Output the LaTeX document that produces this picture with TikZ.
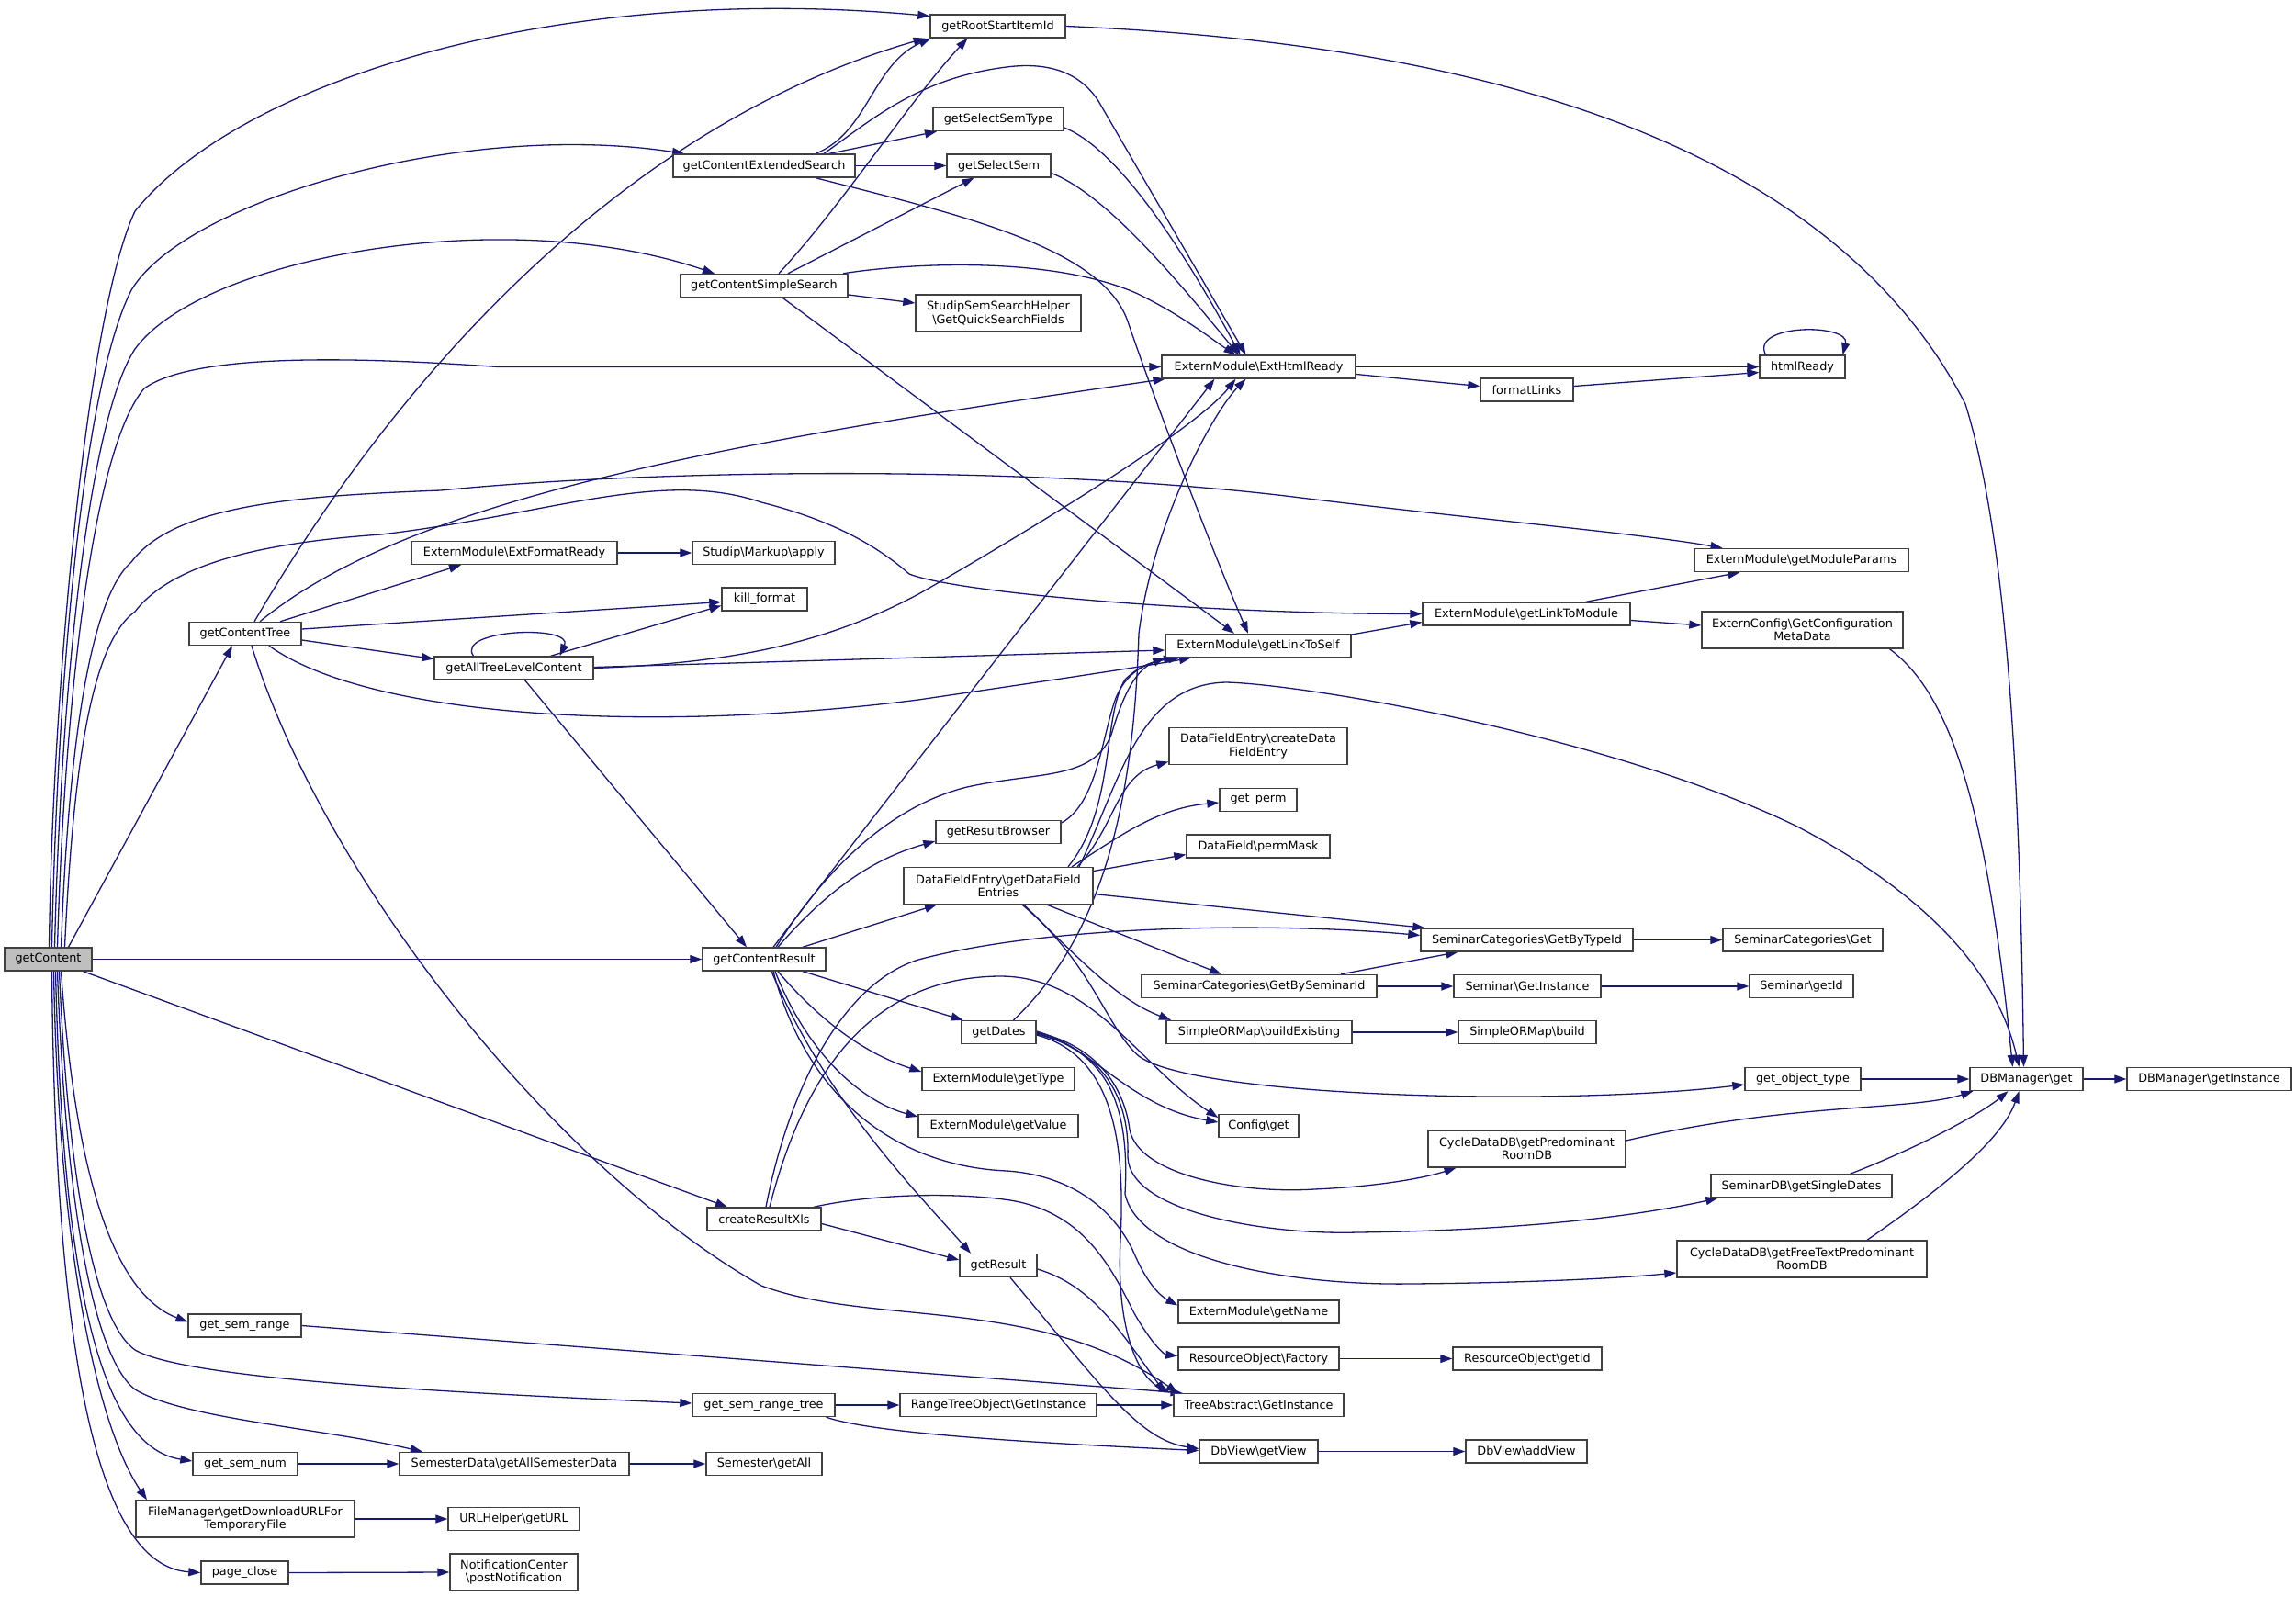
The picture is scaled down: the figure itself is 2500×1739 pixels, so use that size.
\documentclass[tikz,border=0pt]{standalone}
\usepackage{fontspec}
\setmainfont{DejaVu Sans}
\usetikzlibrary{arrows.meta}
\definecolor{edgeblue}{HTML}{191970}
\definecolor{boxgray}{HTML}{404040}
\definecolor{rootfill}{HTML}{BFBFBF}
\newcommand{\bsl}{\textbackslash{}}
\pgfdeclarelayer{edgelayer}
\pgfsetlayers{edgelayer,main}
\tikzset{
  fn/.style={draw=boxgray, line width=1.4pt, fill=white, minimum height=25pt, inner sep=0pt,
             font=\fontsize{12.8}{14.3}\selectfont, align=center, text=black},
  fnn/.style={fn, minimum height=40pt},
  arr/.style={draw=edgeblue, line width=1.3pt, -{Triangle[length=13pt,width=9pt]}},
}
\begin{document}
\begin{tikzpicture}[x=1pt,y=-1pt]
\useasboundingbox (0,0) rectangle (2500,1739);
% ---------------- nodes ----------------
\node[fn, fill=rootfill, minimum width=95pt] (gC) at (52.5,1044.5) {getContent};
\node[fn, minimum width=147pt] (gRS) at (1086.5,28.5) {getRootStartItemId};
\node[fn, minimum width=198pt] (gCES) at (832,180.5) {getContentExtendedSearch};
\node[fn, minimum width=142pt] (gSST) at (1087,130) {getSelectSemType};
\node[fn, minimum width=113pt] (gSS) at (1087.5,180.5) {getSelectSem};
\node[fn, minimum width=182pt] (gCSS) at (832,311) {getContentSimpleSearch};
\node[fnn, minimum width=180pt] (SSH) at (1087,341) {StudipSemSearchHelper\\\bsl GetQuickSearchFields};
\node[fn, minimum width=211pt] (EHR) at (1370.5,399.5) {ExternModule\bsl ExtHtmlReady};
\node[fn, minimum width=93pt] (hR) at (1962.5,399.5) {htmlReady};
\node[fn, minimum width=101pt] (fL) at (1662.5,424.5) {formatLinks};
\node[fn, minimum width=224pt] (EFR) at (560,602) {ExternModule\bsl ExtFormatReady};
\node[fn, minimum width=155pt] (SMA) at (831.5,602) {Studip\bsl Markup\bsl apply};
\node[fn, minimum width=93pt] (kf) at (832.5,652.5) {kill\_format};
\node[fn, minimum width=122pt] (gCT) at (267,690) {getContentTree};
\node[fn, minimum width=173pt] (gATL) at (559.5,727.5) {getAllTreeLevelContent};
\node[fn, minimum width=233pt] (gMP) at (1961.5,610) {ExternModule\bsl getModuleParams};
\node[fn, minimum width=226pt] (gLTM) at (1662,668.5) {ExternModule\bsl getLinkToModule};
\node[fnn, minimum width=219pt] (ECG) at (1962.5,686) {ExternConfig\bsl GetConfiguration\\MetaData};
\node[fn, minimum width=202pt] (gLTS) at (1370,703) {ExternModule\bsl getLinkToSelf};
\node[fnn, minimum width=194pt] (cDFE) at (1370,812.5) {DataFieldEntry\bsl createData\\FieldEntry};
\node[fn, minimum width=84pt] (gp) at (1370,871) {get\_perm};
\node[fn, minimum width=136pt] (gRB) at (1087,906) {getResultBrowser};
\node[fn, minimum width=156pt] (pM) at (1370,921.5) {DataField\bsl permMask};
\node[fnn, minimum width=206pt] (gDFE) at (1087,964.5) {DataFieldEntry\bsl getDataField\\Entries};
\node[fn, minimum width=231pt] (GBT) at (1662.5,1023.5) {SeminarCategories\bsl GetByTypeId};
\node[fn, minimum width=174pt] (SCG) at (1963,1023.5) {SeminarCategories\bsl Get};
\node[fn, minimum width=134pt] (gCR) at (832,1044.5) {getContentResult};
\node[fn, minimum width=256pt] (GBS) at (1371,1074) {SeminarCategories\bsl GetBySeminarId};
\node[fn, minimum width=160pt] (SGI) at (1663,1074) {Seminar\bsl GetInstance};
\node[fn, minimum width=113pt] (SgI) at (1961.5,1074) {Seminar\bsl getId};
\node[fn, minimum width=81pt] (gD) at (1087.5,1124) {getDates};
\node[fn, minimum width=202pt] (bE) at (1371,1124) {SimpleORMap\bsl buildExisting};
\node[fn, minimum width=150pt] (bd) at (1663,1124) {SimpleORMap\bsl build};
\node[fn, minimum width=166pt] (gT) at (1087,1175) {ExternModule\bsl getType};
\node[fn, minimum width=126pt] (got) at (1963,1175) {get\_object\_type};
\node[fn, minimum width=123pt] (DBg) at (2206.5,1175) {DBManager\bsl get};
\node[fn, minimum width=179pt] (DBi) at (2405.5,1175) {DBManager\bsl getInstance};
\node[fn, minimum width=174pt] (gV) at (1087,1226) {ExternModule\bsl getValue};
\node[fn, minimum width=87pt] (Cg) at (1370.5,1226) {Config\bsl get};
\node[fnn, minimum width=215pt] (CPR) at (1662.5,1251) {CycleDataDB\bsl getPredominant\\RoomDB};
\node[fn, minimum width=197pt] (SDB) at (1961.5,1291.5) {SeminarDB\bsl getSingleDates};
\node[fn, minimum width=124pt] (cRX) at (832,1327.5) {createResultXls};
\node[fn, minimum width=84pt] (gR) at (1087,1378) {getResult};
\node[fnn, minimum width=272pt] (CFT) at (1962,1371) {CycleDataDB\bsl getFreeTextPredominant\\RoomDB};
\node[fn, minimum width=175pt] (gN) at (1370.5,1428.5) {ExternModule\bsl getName};
\node[fn, minimum width=123pt] (gsr) at (266.5,1443.5) {get\_sem\_range};
\node[fn, minimum width=175pt] (ROF) at (1370.5,1479.5) {ResourceObject\bsl Factory};
\node[fn, minimum width=162pt] (ROI) at (1663,1479.5) {ResourceObject\bsl getId};
\node[fn, minimum width=155pt] (gsrt) at (831.5,1530) {get\_sem\_range\_tree};
\node[fn, minimum width=214pt] (RTO) at (1087,1530) {RangeTreeObject\bsl GetInstance};
\node[fn, minimum width=185pt] (TAG) at (1370.5,1530) {TreeAbstract\bsl GetInstance};
\node[fn, minimum width=129pt] (DVg) at (1370.5,1580.5) {DbView\bsl getView};
\node[fn, minimum width=132pt] (DVa) at (1662,1580.5) {DbView\bsl addView};
\node[fn, minimum width=114pt] (gsn) at (267,1594) {get\_sem\_num};
\node[fn, minimum width=250pt] (SDG) at (560,1594) {SemesterData\bsl getAllSemesterData};
\node[fn, minimum width=126pt] (Sga) at (832,1594) {Semester\bsl getAll};
\node[fnn, minimum width=238pt] (FM) at (267,1654) {FileManager\bsl getDownloadURLFor\\TemporaryFile};
\node[fn, minimum width=143pt] (URL) at (559.5,1654) {URLHelper\bsl getURL};
\node[fn, minimum width=95pt] (pc) at (266.5,1712.5) {page\_close};
\node[fnn, minimum width=139pt] (NC) at (559.5,1712) {NotificationCenter\\\bsl postNotification};
% ---------------- edges ----------------
\begin{pgfonlayer}{edgelayer}
% getContent upward
\draw[arr] ([xshift=1pt]gC.north) .. controls (57,750) and (95,340) .. (147,230) .. controls (260,90) and (600,-20) .. ([yshift=11pt]gRS.west);
\draw[arr] ([xshift=4pt]gC.north) .. controls (62,750) and (90,420) .. (143,316) .. controls (200,220) and (500,130) .. ([xshift=-87pt]gCES.north);
\draw[arr] ([xshift=7pt]gC.north) .. controls (66,760) and (95,460) .. (147,380) .. controls (220,280) and (550,220) .. ([xshift=-54pt]gCSS.north);
\draw[arr] ([xshift=10pt]gC.north) .. controls (70,770) and (100,490) .. (157,423) .. controls (210,385) and (380,388) .. (542,399.5) -- (EHR.west);
\draw[arr] ([xshift=14pt]gC.north) .. controls (75,800) and (100,650) .. (143,612) .. controls (190,550) and (320,540) .. (480,534) .. controls (700,512) and (1100,505) .. (1400,540) .. controls (1600,565) and (1780,580) .. ([xshift=-86pt]gMP.north);
\draw[arr] ([xshift=18pt]gC.north) .. controls (80,830) and (100,700) .. (147,666) .. controls (190,610) and (300,590) .. (415,582) .. controls (600,560) and (720,510) .. (829,547) .. controls (900,565) and (950,590) .. (990,625) .. controls (1040,645) and (1300,668) .. (gLTM.west);
\draw[arr] ([xshift=22pt]gC.north) -- ([xshift=-14pt]gCT.south);
\draw[arr] (gC.east) -- (gCR.west);
\draw[arr] ([xshift=38pt]gC.south) -- ([xshift=-40pt]cRX.north);
% getContent downward
\draw[arr] ([xshift=14pt]gC.south) .. controls (80,1250) and (115,1405) .. ([yshift=4pt]gsr.west);
\draw[arr] ([xshift=12pt]gC.south) .. controls (75,1300) and (105,1440) .. (147,1470) .. controls (200,1500) and (450,1515) .. ([yshift=2pt]gsrt.west);
\draw[arr] ([xshift=10pt]gC.south) .. controls (72,1330) and (105,1480) .. (147,1513) .. controls (200,1545) and (350,1555) .. ([xshift=-100pt]SDG.north);
\draw[arr] ([xshift=8pt]gC.south) .. controls (68,1380) and (105,1575) .. ([yshift=3pt]gsn.west);
\draw[arr] ([xshift=6pt]gC.south) .. controls (64,1380) and (110,1560) .. ([xshift=-107pt]FM.north);
\draw[arr] ([xshift=4pt]gC.south) .. controls (60,1450) and (100,1705) .. (pc.west);
% getContentTree
\draw[arr] ([xshift=10pt]gCT.north) .. controls (450,380) and (700,130) .. ([xshift=-79pt]gRS.south);
\draw[arr] ([xshift=16pt]gCT.north) .. controls (450,540) and (800,480) .. ([xshift=-102pt]EHR.south);
\draw[arr] ([xshift=38pt]gCT.north) -- ([xshift=-58pt]EFR.south);
\draw[arr] ([yshift=5pt]gCT.east) -- ([yshift=-3pt]kf.west);
\draw[arr] ([yshift=-7pt]gCT.east) -- ([yshift=10pt]gATL.west);
\draw[arr] ([xshift=26pt]gCT.south) .. controls (400,780) and (700,800) .. (1000,762) .. controls (1150,740) and (1250,725) .. ([xshift=-73pt]gLTS.south);
\draw[arr] ([xshift=7pt]gCT.south) .. controls (350,950) and (600,1270) .. (829,1400) .. controls (950,1445) and (1130,1410) .. ([xshift=-88pt]TAG.north);
% getAllTreeLevelContent
\draw[arr] ([xshift=-44pt]gATL.north) .. controls (495,685) and (625,680) .. ([xshift=50pt]gATL.north);
\draw[arr] ([xshift=40pt]gATL.north) -- ([yshift=-7pt]kf.west);
\draw[arr] (gATL.east) .. controls (800,722) and (900,700) .. (1000,647) .. controls (1100,590) and (1300,470) .. ([xshift=-25pt]EHR.south);
\draw[arr] ([yshift=1pt]gATL.east) -- ([yshift=-5pt]gLTS.west);
\draw[arr] ([xshift=12pt]gATL.south) -- ([xshift=-19pt]gCR.north);
% getContentExtendedSearch
\draw[arr] ([xshift=56pt]gCES.north) .. controls (945,145) and (950,70) .. ([xshift=-73pt]gRS.south);
\draw[arr] ([xshift=65pt]gCES.north) .. controls (950,130) and (1000,85) .. (1096,73) .. controls (1150,66) and (1180,85) .. (1196,110) -- ([xshift=-14pt]EHR.north);
\draw[arr] ([xshift=71pt]gCES.north) -- ([xshift=-67pt]gSST.south);
\draw[arr] (gCES.east) -- (gSS.west);
\draw[arr] ([xshift=56pt]gCES.south) .. controls (1050,235) and (1200,270) .. (1228,350) .. controls (1255,430) and (1320,600) .. ([xshift=-11pt]gLTS.north);
% getContentSimpleSearch
\draw[arr] ([xshift=16pt]gCSS.north) .. controls (920,220) and (990,110) .. ([xshift=-33pt]gRS.south);
\draw[arr] ([xshift=26pt]gCSS.north) -- ([xshift=-27pt]gSS.south);
\draw[arr] ([xshift=86pt]gCSS.north) .. controls (1000,285) and (1150,280) .. (1239,320) .. controls (1290,345) and (1320,370) .. ([xshift=-25pt]EHR.north);
\draw[arr] ([yshift=-10pt]gCSS.east) -- ([yshift=11pt]SSH.west);
\draw[arr] ([xshift=20pt]gCSS.south) -- ([xshift=-26pt]gLTS.north);
% getSelectSemType / getSelectSem
\draw[arr] ([yshift=-9pt]gSST.east) .. controls (1200,155) and (1260,220) .. ([xshift=-20pt]EHR.north);
\draw[arr] ([yshift=-8pt]gSS.east) .. controls (1200,210) and (1270,290) .. ([xshift=-22pt]EHR.north);
% getRootStartItemId
\draw[arr] (gRS.east) .. controls (1550,45) and (1980,130) .. (2140,440) .. controls (2190,600) and (2200,900) .. ([xshift=-3pt]DBg.north);
% ExtHtmlReady, formatLinks, htmlReady
\draw[arr] (EHR.east) -- (hR.west);
\draw[arr] ([yshift=-8pt]EHR.east) -- ([yshift=4pt]fL.west);
\draw[arr] ([yshift=4pt]fL.east) -- ([yshift=-6pt]hR.west);
\draw[arr] ([xshift=-40pt]hR.north) .. controls (1905,352) and (2015,352) .. ([xshift=44pt]hR.north);
\draw[arr] (EFR.east) -- (SMA.west);
% link module chain
\draw[arr] ([yshift=12pt]gLTS.east) -- ([yshift=-9pt]gLTM.west);
\draw[arr] ([xshift=65pt]gLTM.north) -- ([xshift=-67pt]gMP.south);
\draw[arr] ([yshift=-7pt]gLTM.east) -- ([yshift=5pt]ECG.west);
\draw[arr] ([xshift=95pt]ECG.south) .. controls (2130,760) and (2165,900) .. ([xshift=-15pt]DBg.north);
% getContentResult
\draw[arr] ([xshift=10pt]gCR.north) .. controls (950,890) and (1200,570) .. ([xshift=-48pt]EHR.south);
\draw[arr] ([xshift=13pt]gCR.north) .. controls (890,960) and (960,880) .. (1053,857) .. controls (1130,840) and (1190,850) .. (1210,800) .. controls (1222,760) and (1235,730) .. (gLTS.south west);
\draw[arr] ([xshift=15pt]gCR.north) .. controls (900,970) and (950,935) .. ([yshift=-10pt]gRB.west);
\draw[arr] ([xshift=42pt]gCR.north) -- ([xshift=-67pt]gDFE.south);
\draw[arr] ([xshift=42pt]gCR.south) -- ([xshift=-39pt]gD.north);
\draw[arr] ([xshift=15pt]gCR.south) .. controls (900,1120) and (950,1150) .. ([yshift=8pt]gT.west);
\draw[arr] ([xshift=12pt]gCR.south) .. controls (880,1150) and (940,1200) .. ([yshift=10pt]gV.west);
\draw[arr] ([xshift=8pt]gCR.south) .. controls (900,1200) and (1000,1300) .. ([xshift=-30pt]gR.north);
\draw[arr] ([xshift=10pt]gCR.south) .. controls (880,1200) and (980,1270) .. (1096,1275) .. controls (1170,1280) and (1215,1320) .. (1235,1365) .. controls (1250,1400) and (1265,1412) .. ([yshift=7pt]gN.west);
% getResultBrowser
\draw[arr] ([yshift=10pt]gRB.east) .. controls (1195,875) and (1200,800) .. (1215,760) .. controls (1225,735) and (1245,722) .. ([xshift=-90pt]gLTS.south);
% getDataFieldEntries
\draw[arr] ([xshift=76pt]gDFE.north) .. controls (1215,880) and (1200,780) .. (1225,740) .. controls (1240,725) and (1255,720) .. ([xshift=-85pt]gLTS.south);
\draw[arr] ([xshift=88pt]gDFE.north) .. controls (1220,850) and (1240,745) .. (1335,743) .. controls (1420,745) and (1750,800) .. (1957,900) .. controls (2100,975) and (2175,1060) .. ([xshift=-8pt]DBg.north);
\draw[arr] ([xshift=86pt]gDFE.north) .. controls (1215,900) and (1215,845) .. ([yshift=-17pt]cDFE.west);
\draw[arr] ([xshift=80pt]gDFE.north) .. controls (1220,910) and (1260,880) .. ([yshift=-3pt]gp.west);
\draw[arr] ([yshift=16pt]gDFE.east) -- ([yshift=-9pt]pM.west);
\draw[arr] ([yshift=-9pt]gDFE.east) -- ([xshift=5pt]GBT.north west);
\draw[arr] ([xshift=53pt]gDFE.south) -- ([xshift=-41pt]GBS.north);
\draw[arr] ([xshift=28pt]gDFE.south) .. controls (1180,1050) and (1220,1090) .. ([xshift=-96pt]bE.north);
\draw[arr] ([xshift=26pt]gDFE.south) .. controls (1190,1050) and (1205,1120) .. (1240,1150) .. controls (1300,1195) and (1700,1205) .. ([yshift=-6pt]got.west);
% seminar categories etc.
\draw[arr] (GBT.east) -- (SCG.west);
\draw[arr] ([xshift=89pt]GBS.north) -- ([xshift=-75pt]GBT.south);
\draw[arr] (GBS.east) -- (SGI.west);
\draw[arr] (SGI.east) -- (SgI.west);
\draw[arr] (bE.east) -- (bd.west);
\draw[arr] (got.east) -- (DBg.west);
\draw[arr] (DBg.east) -- (DBi.west);
\draw[arr] ([yshift=9pt]CPR.east) .. controls (1950,1200) and (2080,1210) .. ([xshift=4pt]DBg.south west);
\draw[arr] ([xshift=53pt]SDB.north) .. controls (2100,1245) and (2160,1210) .. ([xshift=-20pt]DBg.south);
\draw[arr] ([xshift=71pt]CFT.north) .. controls (2120,1290) and (2180,1240) .. ([xshift=-8pt]DBg.south);
% getDates
\draw[arr] ([xshift=16pt]gD.north) .. controls (1210,1010) and (1235,850) .. (1240,690) .. controls (1255,570) and (1320,450) .. ([xshift=-14pt]EHR.south);
\draw[arr] ([yshift=1pt]gD.east) .. controls (1190,1140) and (1230,1205) .. ([yshift=4pt]Cg.west);
\draw[arr] (gD.east) .. controls (1200,1140) and (1225,1190) .. (1230,1230) .. controls (1240,1280) and (1350,1300) .. (1431,1295) .. controls (1500,1292) and (1550,1283) .. ([xshift=-77pt]CPR.south);
\draw[arr] ([yshift=-1pt]gD.east) .. controls (1205,1145) and (1230,1200) .. (1228,1260) .. controls (1230,1320) and (1380,1345) .. (1478,1342) .. controls (1650,1340) and (1780,1325) .. ([xshift=8pt]SDB.south west);
\draw[arr] ([yshift=-2pt]gD.east) .. controls (1210,1145) and (1230,1210) .. (1225,1300) .. controls (1240,1370) and (1400,1400) .. (1536,1398) .. controls (1650,1397) and (1750,1393) .. ([yshift=-15pt]CFT.west);
\draw[arr] ([yshift=-3pt]gD.east) .. controls (1215,1150) and (1225,1250) .. (1220,1350) .. controls (1215,1450) and (1240,1500) .. ([xshift=-96pt]TAG.north);
% createResultXls
\draw[arr] ([xshift=2pt]cRX.north) .. controls (860,1180) and (920,1070) .. (1000,1045) .. controls (1150,1005) and (1400,1005) .. ([yshift=5pt]GBT.west);
\draw[arr] ([xshift=6pt]cRX.north) .. controls (880,1150) and (960,1065) .. (1087,1063) .. controls (1190,1062) and (1240,1160) .. ([yshift=9pt]Cg.west);
\draw[arr] ([yshift=-5pt]cRX.east) -- ([yshift=6pt]gR.west);
\draw[arr] ([xshift=54pt]cRX.north) .. controls (950,1300) and (1040,1298) .. (1100,1307) .. controls (1180,1320) and (1210,1380) .. (1235,1430) .. controls (1255,1465) and (1268,1475) .. ([yshift=3pt]ROF.west);
% getResult
\draw[arr] ([yshift=-4pt]gR.east) .. controls (1190,1400) and (1220,1450) .. ([xshift=-102pt]TAG.north);
\draw[arr] ([xshift=13pt]gR.south) .. controls (1200,1510) and (1240,1568) .. ([yshift=3pt]DVg.west);
% bottom rows
\draw[arr] (gsr.east) -- ([xshift=-83pt]TAG.north);
\draw[arr] (gsrt.east) -- (RTO.west);
\draw[arr] ([xshift=68pt]gsrt.south) .. controls (950,1560) and (1100,1570) .. ([yshift=1pt]DVg.west);
\draw[arr] (RTO.east) -- (TAG.west);
\draw[arr] (DVg.east) -- (DVa.west);
\draw[arr] (ROF.east) -- (ROI.west);
\draw[arr] (gsn.east) -- (SDG.west);
\draw[arr] (SDG.east) -- (Sga.west);
\draw[arr] (FM.east) -- (URL.west);
\draw[arr] (pc.east) -- (NC.west);
\end{pgfonlayer}
\end{tikzpicture}
\end{document}
